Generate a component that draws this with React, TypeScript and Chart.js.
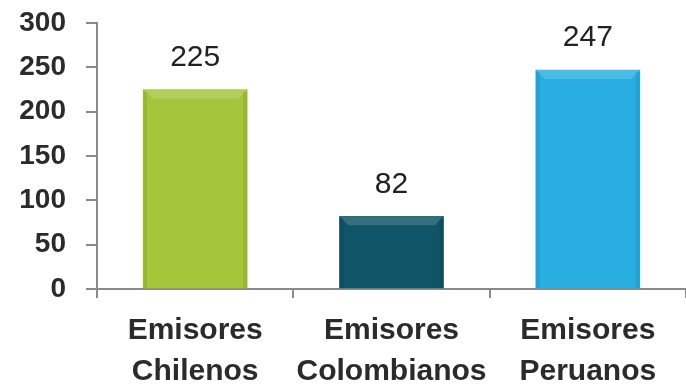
import React, { useEffect, useRef } from "react";
import { Chart, registerables } from "chart.js";

Chart.register(...registerables);

const categories: string[][] = [
  ["Emisores", "Chilenos"],
  ["Emisores", "Colombianos"],
  ["Emisores", "Peruanos"],
];
const values: number[] = [225, 82, 247];
const barColors: string[] = ["#a5c63a", "#0f5567", "#2aaee2"];
const yTicks: number[] = [0, 50, 100, 150, 200, 250, 300];

const valueLabelPlugin = {
  id: "valueLabels",
  afterDatasetsDraw(chart: any) {
    const ctx = chart.ctx;
    const meta = chart.getDatasetMeta(0);
    ctx.save();
    meta.data.forEach((bar: any, i: number) => {
      const { x, y, width, base } = bar.getProps(["x", "y", "width", "base"], true);
      const left = x - width / 2;
      const right = x + width / 2;
      const bev = 9;
      ctx.fillStyle = "rgba(255,255,255,0.16)";
      ctx.beginPath();
      ctx.moveTo(left, y);
      ctx.lineTo(right, y);
      ctx.lineTo(right - bev, y + bev);
      ctx.lineTo(left + bev, y + bev);
      ctx.closePath();
      ctx.fill();
      ctx.fillStyle = "rgba(0,0,0,0.08)";
      ctx.fillRect(left, y + 2, 4, base - y - 2);
      ctx.fillRect(right - 4, y + 2, 4, base - y - 2);
      ctx.fillStyle = "#222";
      ctx.font = "30px 'Liberation Sans', Arial, sans-serif";
      ctx.textAlign = "center";
      ctx.textBaseline = "middle";
      ctx.fillText(String(values[i]), x, y - 32);
    });
    ctx.restore();
  },
};

export default function App() {
  const ref = useRef<HTMLCanvasElement | null>(null);
  useEffect(() => {
    document.body.style.margin = "0";
    const chart = new Chart(ref.current!, {
      type: "bar",
      data: {
        labels: categories,
        datasets: [
          {
            data: values,
            backgroundColor: barColors,
            borderWidth: 0,
            barThickness: 104,
          },
        ],
      },
      options: {
        animation: false,
        responsive: false,
        maintainAspectRatio: false,
        layout: { padding: { top: 23, right: 0, left: 0, bottom: 0 } },
        plugins: { legend: { display: false }, tooltip: { enabled: false } },
        scales: {
          x: {
            offset: true,
            grid: {
              display: true,
              drawOnChartArea: false,
              offset: true,
              tickLength: 9,
              color: "#8a8a8a",
              lineWidth: 2,
            },
            border: { color: "#8a8a8a", width: 2 },
            ticks: {
              color: "#2b2b2b",
              font: { family: "'Liberation Sans', Arial, sans-serif", size: 30, weight: "bold", lineHeight: 1.38 },
              padding: 12,
              maxRotation: 0,
              autoSkip: false,
            },
            afterFit(scale: any) {
              scale.height = 96;
              scale.paddingLeft = 0;
              scale.paddingRight = 0;
            },
          },
          y: {
            min: 0,
            max: 300,
            afterBuildTicks(scale: any) {
              scale.ticks = yTicks.map((v) => ({ value: v }));
            },
            grid: {
              display: true,
              drawOnChartArea: false,
              tickLength: 11,
              color: "#8a8a8a",
              lineWidth: 2,
            },
            border: { color: "#8a8a8a", width: 2 },
            ticks: {
              color: "#2b2b2b",
              font: { family: "'Liberation Sans', Arial, sans-serif", size: 28, weight: "bold" },
              padding: 20,
            },
            afterFit(scale: any) {
              scale.width = 97;
              scale.paddingTop = 0;
              scale.paddingBottom = 0;
            },
          },
        },
      },
      plugins: [valueLabelPlugin],
    });
    return () => chart.destroy();
  }, []);
  return (
    <div style={{ position: "fixed", left: 0, top: 0, width: 686, height: 385, background: "#fff" }}>
      <canvas ref={ref} width={686} height={385} style={{ width: 686, height: 385 }} />
    </div>
  );
}
